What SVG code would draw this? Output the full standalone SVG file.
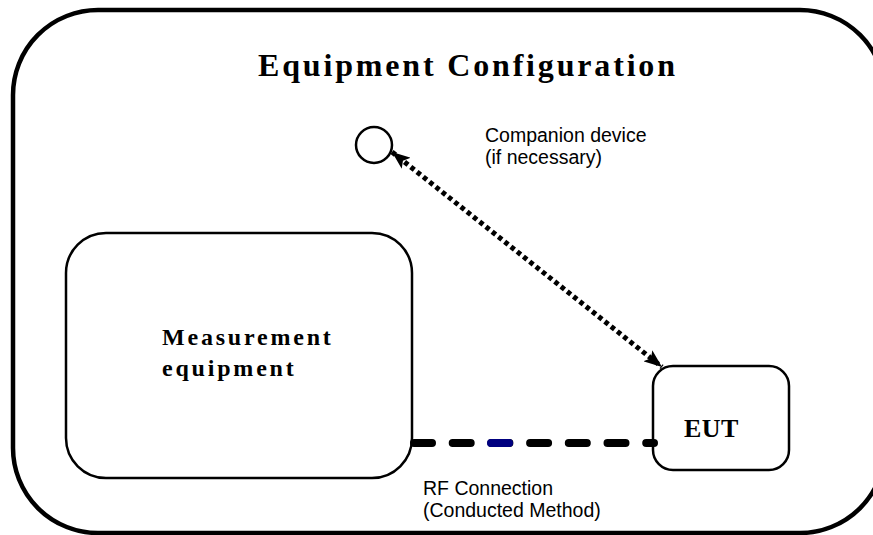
<svg xmlns="http://www.w3.org/2000/svg" width="873" height="535" viewBox="0 0 873 535">
<style>
.box{fill:none;stroke:#000;stroke-width:2.5}
.serif{font-family:"Liberation Serif","Times New Roman",serif;font-weight:bold;fill:#000}
.sans{font-family:"Liberation Sans",Arial,sans-serif;font-size:19.5px;fill:#000}
</style>
<defs>
<marker id="ah" viewBox="0 0 18 14" refX="18" refY="7" markerWidth="18" markerHeight="14" markerUnits="userSpaceOnUse" orient="auto-start-reverse">
<path d="M0,0 L18,7 L0,14 L4,7 z" fill="#000"/>
</marker>
</defs>
<rect width="873" height="535" fill="#fff"/>
<g id="frame">
<rect x="13" y="10" width="872" height="523" rx="85" ry="85" fill="none" stroke="#000" stroke-width="4.5"/>
<text class="serif" x="258" y="76" font-size="32" textLength="417" lengthAdjust="spacing">Equipment Configuration</text>
</g>
<g id="companion">
<circle cx="374" cy="145" r="18" fill="#fff" stroke="#000" stroke-width="2.5"/>
<text class="sans" x="485" y="142">Companion device</text>
<text class="sans" x="485" y="164">(if necessary)</text>
</g>
<g id="measurement">
<rect class="box" x="66" y="233" width="346" height="245" rx="40" ry="40"/>
<text class="serif" x="162" y="345" font-size="24" letter-spacing="2.8">Measurement</text>
<text class="serif" x="162" y="376" font-size="24" letter-spacing="2.8">equipment</text>
</g>
<g id="eut">
<rect class="box" x="653" y="366" width="136" height="104" rx="20" ry="20"/>
<text class="serif" x="684" y="437" font-size="26" letter-spacing="0.5">EUT</text>
</g>
<g id="connectors">
<line x1="392" y1="152" x2="662" y2="367" stroke="#000" stroke-width="5" stroke-dasharray="4.5 3.5" marker-start="url(#ah)" marker-end="url(#ah)"/>
<line x1="414" y1="443" x2="654" y2="443" stroke="#000" stroke-width="8" stroke-linecap="round" stroke-dasharray="18 20.7"/>
<line x1="491" y1="443" x2="509" y2="443" stroke="#000080" stroke-width="8" stroke-linecap="round"/>
<text class="sans" x="423" y="495">RF Connection</text>
<text class="sans" x="423" y="517">(Conducted Method)</text>
</g>
</svg>
